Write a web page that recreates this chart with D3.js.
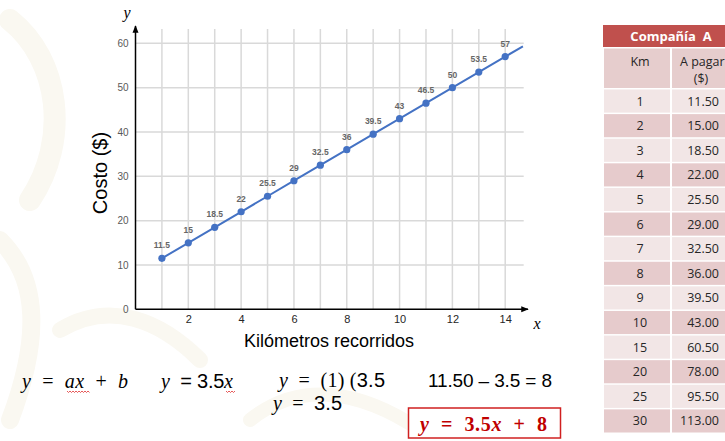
<!DOCTYPE html>
<html>
<head>
<meta charset="utf-8">
<script src="https://cdn.jsdelivr.net/npm/d3@7"></script>
<style>
  body { margin: 0; background: #fff; }
  svg { display: block; }
</style>
</head>
<body>
<svg id="chart" width="725" height="441"></svg>
<script>
(() => {
    // chart data
    const km = [1, 2, 3, 4, 5, 6, 7, 8, 9, 10, 11, 12, 13, 14];
    const costo = [11.5, 15, 18.5, 22, 25.5, 29, 32.5, 36, 39.5, 43, 46.5, 50, 53.5, 57];
    const xTicks = [2, 4, 6, 8, 10, 12, 14];
    const yTicks = [0, 10, 20, 30, 40, 50, 60];
    const trendEnd = [14.67, 59.3]; // where the drawn line leaves the plot

    // table data
    const tablaKm = ["1", "2", "3", "4", "5", "6", "7", "8", "9", "10", "15", "20", "25", "30"];
    const tablaPagar = ["11.50", "15.00", "18.50", "22.00", "25.50", "29.00", "32.50", "36.00", "39.50", "43.00", "60.50", "78.00", "95.50", "113.00"];

    const svg = d3.select("#chart");
    const serif = "'Liberation Serif', 'DejaVu Serif', serif";
    const sans = "'Liberation Sans', Arial, sans-serif";

    // faint watermark shapes in the background
    const wm = svg.append("g").attr("fill", "none").attr("stroke", "#faf8f1").attr("stroke-linecap", "round");
    wm.append("path").attr("d", "M10,20 C60,60 70,140 30,200").attr("stroke-width", 22);
    wm.append("path").attr("d", "M0,240 C40,280 40,340 10,420").attr("stroke-width", 18);
    wm.append("path").attr("d", "M60,330 C110,300 160,320 200,360").attr("stroke-width", 16);
    wm.append("path").attr("d", "M250,420 C300,380 360,390 420,430").attr("stroke-width", 14);

    const x = d3.scaleLinear().domain([0, 14.7]).range([135.5, 523.7]);
    const y = d3.scaleLinear().domain([0, 60]).range([309.3, 43.3]);
    const yTop = 63.2;

    const g = svg.append("g");

    // gridlines
    g.append("g")
        .selectAll("line")
        .data(km)
        .join("line")
        .attr("x1", d => x(d)).attr("x2", d => x(d))
        .attr("y1", y(0)).attr("y2", y(yTop))
        .attr("stroke", "#d9d9d9").attr("stroke-width", 1.5);

    g.append("g")
        .selectAll("line")
        .data(yTicks.filter(d => d > 0))
        .join("line")
        .attr("x1", x(0)).attr("x2", x(14.7))
        .attr("y1", d => y(d)).attr("y2", d => y(d))
        .attr("stroke", "#d9d9d9").attr("stroke-width", 1.5);

    // axes
    const yAxis = g.append("g")
        .attr("transform", `translate(${x(0) - 7},0)`)
        .call(d3.axisLeft(y).tickValues(yTicks).tickSize(0).tickPadding(0));
    yAxis.select(".domain").remove();
    yAxis.selectAll("text")
        .attr("font-family", sans).attr("font-size", "10px").attr("fill", "#595959");

    const xAxis = g.append("g")
        .attr("transform", `translate(0,${y(0) + 6})`)
        .call(d3.axisBottom(x).tickValues(xTicks).tickSize(0).tickPadding(0));
    xAxis.select(".domain").remove();
    xAxis.selectAll("text")
        .attr("font-family", sans).attr("font-size", "11px").attr("fill", "#262626");

    const defs = svg.append("defs");
    defs.append("marker")
        .attr("id", "arrow")
        .attr("viewBox", "0 0 10 10")
        .attr("refX", 9).attr("refY", 5)
        .attr("markerWidth", 5).attr("markerHeight", 5)
        .attr("orient", "auto")
        .append("path").attr("d", "M0,1 L10,5 L0,9 Z").attr("fill", "#000");

    g.append("line")
        .attr("x1", x(0)).attr("x2", x(0))
        .attr("y1", y(0)).attr("y2", 26)
        .attr("stroke", "#000").attr("stroke-width", 1.5)
        .attr("marker-end", "url(#arrow)");
    g.append("line")
        .attr("x1", x(0)).attr("x2", 528)
        .attr("y1", y(0)).attr("y2", y(0))
        .attr("stroke", "#000").attr("stroke-width", 1.5)
        .attr("marker-end", "url(#arrow)");

    // axis letters
    svg.append("text").attr("x", 127).attr("y", 18)
        .attr("text-anchor", "middle")
        .attr("font-family", serif).attr("font-style", "italic").attr("font-size", "16px")
        .text("y");
    svg.append("text").attr("x", 537).attr("y", 329)
        .attr("text-anchor", "middle")
        .attr("font-family", serif).attr("font-style", "italic").attr("font-size", "16px")
        .text("x");

    // axis titles
    svg.append("text")
        .attr("transform", "translate(107,173) rotate(-90)")
        .attr("text-anchor", "middle")
        .attr("font-family", sans).attr("font-size", "20px").attr("fill", "#000")
        .text("Costo ($)");
    svg.append("text")
        .attr("x", 329).attr("y", 347)
        .attr("text-anchor", "middle")
        .attr("font-family", sans).attr("font-size", "18px").attr("fill", "#000")
        .text("Kilómetros recorridos");

    // series line
    const pts = km.map((k, i) => [k, costo[i]]);
    const line = d3.line().x(d => x(d[0])).y(d => y(d[1]));
    g.append("path")
        .datum(pts.concat([trendEnd]))
        .attr("d", line)
        .attr("fill", "none")
        .attr("stroke", "#4472c4")
        .attr("stroke-width", 2);

    g.selectAll("circle")
        .data(pts)
        .join("circle")
        .attr("cx", d => x(d[0]))
        .attr("cy", d => y(d[1]))
        .attr("r", 3.6)
        .attr("fill", "#4472c4");

    g.selectAll("text.label")
        .data(pts)
        .join("text")
        .attr("class", "label")
        .attr("x", d => x(d[0]))
        .attr("y", d => y(d[1]) - 10)
        .attr("text-anchor", "middle")
        .attr("font-family", sans).attr("font-size", "8.5px").attr("font-weight", "bold")
        .attr("fill", "#666")
        .text(d => d[1]);

    // table
    const tbl = svg.append("g").attr("font-family", "'Open Sans', 'Noto Sans', sans-serif");
    const tx0 = 604, tDiv = 671, tx1 = 725;
    tbl.append("rect").attr("x", 603).attr("y", 25).attr("width", tx1 - 603).attr("height", 22).attr("fill", "#c0504d");
    tbl.append("text").attr("x", 671).attr("y", 41)
        .attr("text-anchor", "middle").attr("fill", "#fff")
        .attr("font-size", "13px").attr("font-weight", "bold")
        .attr("xml:space", "preserve")
        .text("Compañía  A");

    tbl.append("rect").attr("x", tx0).attr("y", 48.5).attr("width", tDiv - tx0 - 1).attr("height", 39.5).attr("fill", "#e6cdcd");
    tbl.append("rect").attr("x", tDiv + 1).attr("y", 48.5).attr("width", tx1 - tDiv).attr("height", 39.5).attr("fill", "#e6cdcd");
    tbl.append("text").attr("x", 640).attr("y", 66).attr("text-anchor", "middle")
        .attr("font-size", "12.5px").attr("fill", "#262626").text("Km");
    tbl.append("text").attr("x", 680).attr("y", 66)
        .attr("font-size", "12.5px").attr("fill", "#262626").text("A pagar");
    tbl.append("text").attr("x", 701).attr("y", 83).attr("text-anchor", "middle")
        .attr("font-size", "12.5px").attr("fill", "#262626").text("($)");

    const rowY = d3.scaleBand().domain(d3.range(tablaKm.length)).range([89.5, 432.5]).paddingInner(0.06);
    const rows = tbl.selectAll("g.row")
        .data(tablaKm.map((k, i) => ({ k, p: tablaPagar[i], i })))
        .join("g")
        .attr("class", "row")
        .attr("transform", d => `translate(0,${rowY(d.i)})`);
    rows.append("rect").attr("x", tx0).attr("width", tDiv - tx0 - 1).attr("height", rowY.bandwidth())
        .attr("fill", d => d.i % 2 ? "#e6cbcc" : "#f2e6e6");
    rows.append("rect").attr("x", tDiv + 1).attr("width", tx1 - tDiv).attr("height", rowY.bandwidth())
        .attr("fill", d => d.i % 2 ? "#e6cbcc" : "#f2e6e6");
    rows.append("text").attr("x", 640).attr("y", rowY.bandwidth() / 2 + 4.5)
        .attr("text-anchor", "middle").attr("font-size", "12.5px").attr("fill", "#262626")
        .text(d => d.k);
    rows.append("text").attr("x", 719).attr("y", rowY.bandwidth() / 2 + 4.5)
        .attr("text-anchor", "end").attr("font-size", "12.5px").attr("fill", "#262626")
        .text(d => d.p);

    // equations
    const eq = svg.append("g").attr("fill", "#000").attr("font-size", "20px");
    const addEq = (xp, yp, parts, len) => {
        const t = eq.append("text").attr("x", xp).attr("y", yp).attr("xml:space", "preserve");
        parts.forEach(([s, it, fam]) => {
            t.append("tspan")
                .attr("font-family", fam === "s" ? sans : serif)
                .attr("font-style", it ? "italic" : "normal")
                .text(s);
        });
        if (len) t.attr("textLength", len).attr("lengthAdjust", "spacing");
        return t;
    };
    addEq(22, 388, [["y", 1], ["  =  ", 0], ["ax", 1], ["  +  ", 0], ["b", 1]], 106);
    addEq(161, 388, [["y", 1], ["  = 3.5", 0, "s"], ["x", 1]], 72);
    addEq(279, 387, [["y", 1], ["  =  (1) (", 0], ["3.5", 0, "s"]], 106);
    addEq(273, 410, [["y", 1], ["  =  ", 0], ["3.5", 0, "s"]], 69);
    addEq(428, 387, [["11.50 – 3.5 = 8", 0, "s"]], 124).attr("font-size", "19px");

    // spell-check squiggles
    const squig = (x0, x1, yy) => {
        let d = `M${x0},${yy}`;
        for (let xx = x0 + 1.5, k = 0; xx <= x1; xx += 1.5, k++) d += ` L${xx},${yy + (k % 2 ? 0 : 1.5)}`;
        svg.append("path").attr("d", d).attr("fill", "none").attr("stroke", "#e03030").attr("stroke-width", 0.8);
    };
    squig(67, 90, 391);
    squig(226, 235, 391);

    // result box
    svg.append("rect").attr("x", 408.5).attr("y", 408).attr("width", 152).attr("height", 30)
        .attr("fill", "#fff").attr("stroke", "#d02020").attr("stroke-width", 1.5);
    const res = svg.append("text").attr("x", 420).attr("y", 431)
        .attr("fill", "#c00000").attr("font-family", serif).attr("font-weight", "bold").attr("font-size", "20px")
        .attr("xml:space", "preserve")
        .attr("textLength", 127).attr("lengthAdjust", "spacing");
    res.append("tspan").attr("font-style", "italic").text("y");
    res.append("tspan").text("  =  3.5");
    res.append("tspan").attr("font-style", "italic").text("x");
    res.append("tspan").text("  +  8");
})();
</script>
</body>
</html>
